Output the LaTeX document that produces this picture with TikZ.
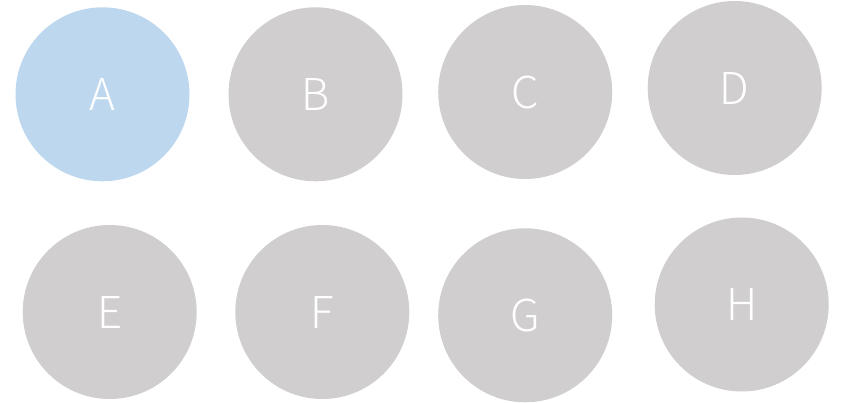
\documentclass[tikz,border=0pt]{standalone}
\usepackage{fontspec}
\newfontfamily\labelfont{Noto Sans CJK JP}[UprightFont=* Light]
\usepackage{xcolor}
\usepackage{tikz}
\usetikzlibrary{positioning}

\definecolor{pickblue}{HTML}{BDD7EE}
\definecolor{restgray}{HTML}{D0CECE}

\begin{document}
\begin{tikzpicture}[
  x=0.02cm,y=-0.02cm,
  disc/.style={circle,minimum size=3.48cm,inner sep=0pt,fill=restgray,
               text=white,font=\labelfont\fontsize{25}{30}\selectfont},
  chosen/.style={disc,fill=pickblue}
]
\useasboundingbox (0,0) rectangle (841,402);
\node[chosen] (a) at (102.5,94.3) {A};
\node[disc] (b) at (315.5,94.3) {B};
\node[disc] (c) at (525.2,92) {C};
\node[disc] (d) at (734.7,88) {D};
\node[disc] (e) at (109.7,312) {E};
\node[disc] (f) at (322.3,312) {F};
\node[disc] (g) at (525.2,315.3) {G};
\node[disc] (h) at (741.7,304.5) {H};
\end{tikzpicture}
\end{document}
